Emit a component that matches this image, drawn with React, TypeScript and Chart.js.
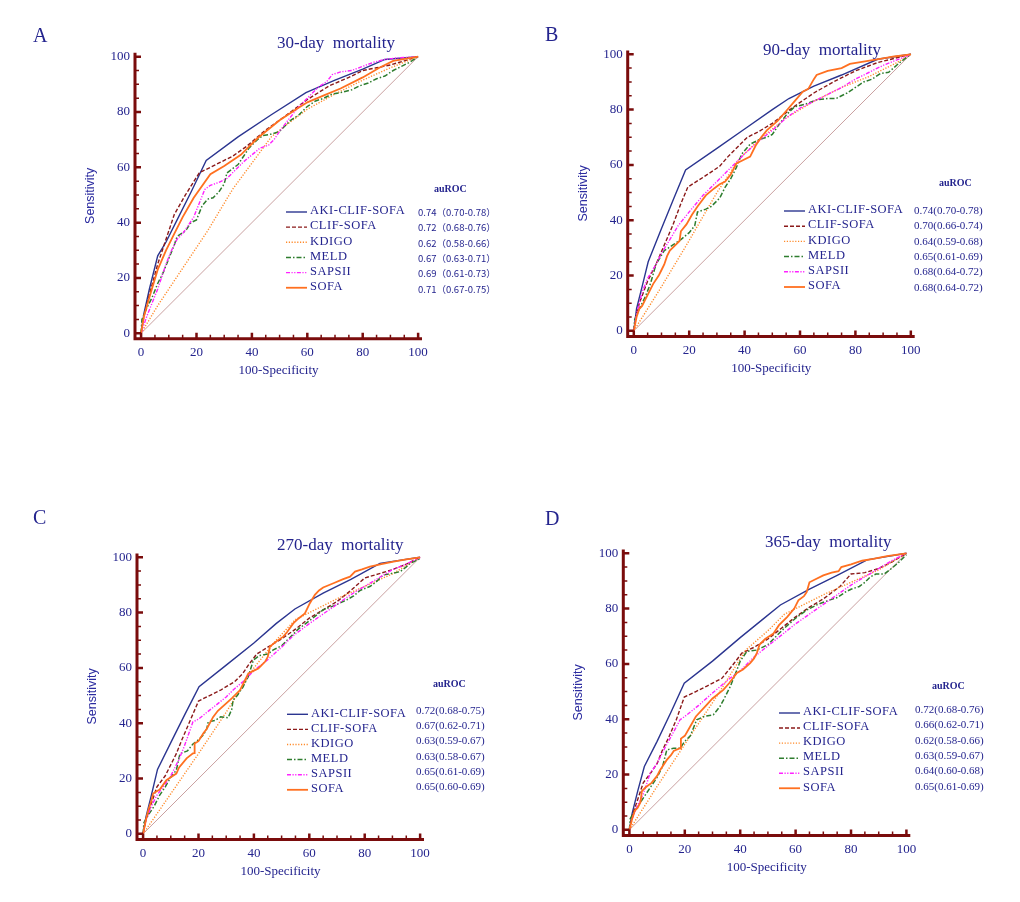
import React, { useEffect, useRef } from 'react';
import { Chart, registerables } from 'chart.js';

Chart.register(...registerables);

type Pt = [number, number];

const SERIES = ['AKI-CLIF-SOFA', 'CLIF-SOFA', 'KDIGO', 'MELD', 'SAPSII', 'SOFA'];
const TICKS = [0, 20, 40, 60, 80, 100];
const DIAGONAL: Pt[] = [[0, 0], [100, 100]];

// A: 30-day mortality
const A_AKI: Pt[] = [[0, 0], [1, 7], [3, 16], [6, 28], [9, 33], [13, 41], [18, 51], [23.5, 62.5], [35, 71], [47, 79], [59.5, 87], [70, 91.5], [80, 95.5], [88, 99], [100, 100]];
const A_CLIF: Pt[] = [[0, 0], [1, 6], [3, 14], [6, 25], [9, 34], [12, 43], [16, 50], [21, 58], [27, 61], [33, 64], [38, 67.5], [45, 73.5], [52, 78.5], [60, 84.5], [68, 89.5], [75, 92.5], [80, 95], [85, 96], [90, 97], [95, 98.5], [100, 100]];
const A_KDIGO: Pt[] = [[0, 0], [6, 10], [24, 37], [33, 52], [47, 71], [52, 75], [60, 81], [70, 86.5], [80, 91.5], [90, 96], [100, 100]];
const A_MELD: Pt[] = [[0, 0], [0.3, 5], [2, 9], [4, 13], [6, 18], [8, 22], [10, 27], [12, 32], [13, 35], [16, 37], [18, 40], [20, 41], [22, 46], [24, 48.5], [26, 49], [28, 51], [30, 54], [31, 58], [33, 59.5], [35, 61], [37, 64], [39, 67], [42, 70], [44, 71.5], [47, 72], [50, 73], [52, 75], [54, 77], [57, 79], [60, 82], [63, 84], [66, 85], [69, 86.5], [72, 87], [76, 88], [79, 89.5], [82, 90.5], [85, 92], [88, 93], [91, 95], [94, 96.5], [97, 98], [100, 100]];
const A_SAPSII: Pt[] = [[0, 0], [2, 6], [4, 11], [6, 16], [9, 25], [11, 30], [13, 34], [15, 36], [17, 39], [19, 42], [21, 47], [23, 52], [25, 53.5], [28, 54.5], [31, 56], [34, 59], [37, 62], [40, 64.5], [43, 67], [46, 68], [48, 70], [50, 73], [53, 77], [57, 82], [61, 86], [64, 89], [67, 91], [69, 93.5], [72, 94.5], [76, 95], [80, 96.5], [84, 98], [88, 99], [92, 99.5], [100, 100]];
const A_SOFA: Pt[] = [[0, 0], [1, 6], [3, 13], [6, 23], [9, 30], [12, 36], [15, 42], [19, 49], [25, 57.5], [30, 60.5], [36, 64.5], [42, 70.5], [50, 77], [56, 81], [60, 83.5], [66, 86], [72, 88.5], [80, 92.5], [86, 96], [91, 98.5], [100, 100]];
const A_AUROC = ['0.74（0.70-0.78）', '0.72（0.68-0.76）', '0.62（0.58-0.66）', '0.67（0.63-0.71）', '0.69（0.61-0.73）', '0.71（0.67-0.75）'];

// B: 90-day mortality
const B_AKI: Pt[] = [[0, 0], [1, 8], [3, 16], [5.2, 25], [10, 37], [14.5, 48], [18.7, 58.2], [30, 66], [40, 73], [50, 80], [56, 84], [65, 88.5], [75, 92.5], [88, 98.2], [100, 100]];
const B_CLIF: Pt[] = [[0, 0], [1, 6], [2, 10], [5, 18], [8, 24], [11, 31], [14, 38], [17, 46], [19.5, 52], [25, 55.5], [31, 59.5], [34, 63], [37, 66], [41, 70], [45, 72], [50, 75], [57, 80.5], [65, 86], [72, 90], [80, 94], [88, 97], [100, 100]];
const B_KDIGO: Pt[] = [[0, 0], [10, 16], [19, 31], [30, 50], [38, 62], [45, 69], [55, 77], [65, 83], [75, 88], [85, 92], [95, 97], [100, 100]];
const B_MELD: Pt[] = [[0, 0], [0.3, 4], [2, 8], [4, 12], [6, 17], [8, 24], [11, 29], [14, 31], [17, 33], [20, 35.5], [22, 38], [23, 43], [26, 44], [28, 45], [31, 48], [33, 52], [35, 55], [37, 59], [39, 64], [42, 67.5], [45, 69], [48, 70], [50, 71], [52, 74], [55, 78], [58, 81], [62, 82], [66, 83.5], [70, 84], [73, 84], [77, 86], [80, 88], [83, 90], [86, 91], [89, 93], [92, 93.5], [96, 97], [100, 100]];
const B_SAPSII: Pt[] = [[0, 0], [1, 6], [3, 14], [5, 19], [8, 24], [10, 28], [13, 33], [16, 38], [20, 43], [25, 49], [30, 54], [35, 59], [40, 64], [45, 68.5], [50, 72.5], [55, 77], [60, 80.5], [65, 83], [70, 85.5], [75, 88], [80, 91], [85, 93.5], [90, 96], [95, 98], [100, 100]];
const B_SOFA: Pt[] = [[0, 0], [1, 5], [2, 8], [3, 9], [4, 11], [5, 13], [7, 17], [9, 20], [10, 22], [11, 24], [12, 27], [13, 29], [15, 31], [16.5, 32.5], [17, 36], [19, 38.5], [21, 42], [23, 45], [26, 49], [29, 51.5], [31, 53], [33, 54], [35, 56.5], [37, 60.5], [39, 61.5], [42, 63], [44, 67], [46, 70], [48, 72.5], [52, 76], [55, 79.5], [58, 83], [61, 86.5], [63, 87.5], [65, 91], [66, 92.5], [70, 94], [75, 95], [78, 96.5], [84, 97.5], [90, 98.5], [94, 99.2], [100, 100]];
const B_AUROC = ['0.74(0.70-0.78)', '0.70(0.66-0.74)', '0.64(0.59-0.68)', '0.65(0.61-0.69)', '0.68(0.64-0.72)', '0.68(0.64-0.72)'];

// C: 270-day mortality
const C_AKI: Pt[] = [[0, 0], [1, 6], [3, 14], [5.2, 23.3], [10, 33], [15, 43], [20.2, 53.2], [30, 61], [40, 69], [48, 76], [54.8, 81.3], [65, 87], [75, 92], [85.5, 97.8], [100, 100]];
const C_CLIF: Pt[] = [[0, 0], [1, 5], [3, 11], [5, 17], [8, 21], [10, 25], [12, 29], [14, 34], [17, 41], [20, 48], [24, 50], [28, 52], [33, 55], [36, 58], [38, 61], [41, 65], [45, 67.5], [50, 70.5], [55, 74], [60, 78], [65, 81], [70, 84], [75, 88], [80, 92.5], [85, 94], [90, 95.5], [95, 97.5], [100, 100]];
const C_KDIGO: Pt[] = [[0, 0], [10, 14.5], [20, 29], [30, 44], [40, 60], [48, 70], [55, 77.5], [62, 81], [70, 85], [80, 89.5], [90, 94], [100, 100]];
const C_MELD: Pt[] = [[0, 0], [0.3, 4], [2, 7], [4, 10], [6, 14], [8, 17], [10, 20.5], [12, 23], [13.3, 29], [16, 30], [18, 32.5], [20, 34], [21.7, 35.7], [23, 38], [23.5, 40.5], [26, 41], [28, 42.3], [30.7, 42], [32, 45], [32.5, 48.4], [34, 50], [36, 53], [38, 57], [39.8, 62.8], [42, 64.5], [45, 65], [47, 66.5], [50, 68], [53, 71], [56, 74], [60, 77], [65, 81], [69, 82.5], [73.5, 84.6], [76, 86], [78.3, 88], [82, 89.5], [84, 91], [86.7, 93.6], [89, 94], [92.8, 94.8], [95, 96.5], [96.4, 97.8], [100, 99.5]];
const C_SAPSII: Pt[] = [[0, 0], [1, 5], [3, 10], [5, 14], [8, 18], [10, 21], [13, 27], [15, 32], [18, 40.5], [20, 41.5], [25, 45.5], [30, 49.5], [32.5, 52], [36, 55], [40, 59], [45, 63], [50, 67.5], [54, 71.5], [60, 76], [65, 79.5], [70, 83], [75, 86.5], [80, 89.5], [85, 92.5], [90, 95.5], [95, 97.5], [100, 100]];
const C_SOFA: Pt[] = [[0, 0], [1, 5], [2, 9], [3, 12], [3.6, 14.6], [6, 16], [8.4, 19.4], [10, 20.5], [12, 21.8], [13, 24], [15.7, 27.3], [18, 29.1], [18.5, 29.2], [18.6, 32.7], [20, 33.5], [21.7, 36.3], [23, 38], [25.3, 42.3], [27, 44.5], [30, 47.2], [32, 49], [35, 52], [36.5, 55], [38, 58], [40, 59], [41.6, 59.8], [44, 62.2], [45, 64], [45.8, 67.7], [48, 69.5], [50.6, 71.3], [52, 73], [54.2, 76.1], [56, 77.8], [58.4, 79.7], [59.5, 82], [60.2, 83.4], [62, 86.4], [63.5, 88], [65, 89.1], [68.7, 90.6], [72, 92], [74.7, 93], [76.5, 94.8], [79, 95.6], [81.9, 96.6], [86, 97.5], [90.4, 98.4], [95, 99.2], [100, 100]];
const C_AUROC = ['0.72(0.68-0.75)', '0.67(0.62-0.71)', '0.63(0.59-0.67)', '0.63(0.58-0.67)', '0.65(0.61-0.69)', '0.65(0.60-0.69)'];

// D: 365-day mortality
const D_AKI: Pt[] = [[0, 0], [1, 6], [3, 14], [5.4, 22.9], [10, 32], [15, 42.5], [19.8, 53], [30, 61], [40, 69.5], [48, 76], [54.5, 81.3], [65, 87], [75, 92], [85.8, 97.6], [100, 100]];
const D_CLIF: Pt[] = [[0, 0], [1, 5], [3, 11], [5, 17], [8, 21], [10, 24], [12, 29], [14, 33], [17, 40], [19.8, 48], [24, 50], [28, 52], [33.4, 54.8], [36, 58], [38, 60.5], [40.6, 63.9], [45, 66], [50, 69], [55, 73], [60, 77], [65, 80.5], [70, 83.5], [76, 88], [80, 92.5], [85, 93], [90, 94.5], [95, 97], [100, 100]];
const D_KDIGO: Pt[] = [[0, 0], [10, 15.7], [22, 34], [32, 49], [42, 65], [50, 72], [56, 78], [62, 81], [70, 85], [80, 89.5], [90, 94], [100, 100]];
const D_MELD: Pt[] = [[0, 0], [0.3, 4], [2, 7], [4, 10], [6, 13], [8, 16], [10, 19], [12, 23], [13.5, 28.9], [16, 29.5], [18.3, 29.5], [20, 32], [22, 34], [24.3, 39.8], [27, 41], [30.3, 41.6], [32.7, 44.6], [34, 47], [36.4, 51.8], [38.8, 57.8], [40, 61], [42.4, 64.5], [46, 65], [48, 66], [50, 67], [53, 70], [56, 73], [60, 76.5], [64, 79.5], [68, 81.5], [72, 83], [75, 84], [78, 86], [80, 87], [83, 88], [85, 89.5], [87, 91.5], [89, 92.5], [92, 92.5], [94, 94], [97, 96.5], [100, 99.5]];
const D_SAPSII: Pt[] = [[0, 0], [1, 4], [3, 9], [5, 13], [7.5, 20.5], [10, 24], [13, 30], [16, 35.5], [18.3, 39.8], [20, 41], [25, 45], [30, 49.5], [36.3, 54.8], [40, 57.5], [45, 62.5], [50, 66.5], [55, 70.5], [60, 74.5], [65, 78], [70, 81.5], [75, 85], [80, 88.5], [85, 91.5], [90, 94.5], [95, 97.5], [100, 100]];
const D_SOFA: Pt[] = [[0, 0], [1, 4], [2, 7], [3, 8], [4, 10], [4.5, 14], [6, 15.5], [8, 17], [10, 19.5], [11, 21.5], [13.5, 25.3], [15, 27], [16, 28.5], [18.3, 29.5], [18.6, 33], [20, 34], [21.9, 37.3], [24, 41], [27.9, 45.2], [30, 47.5], [33.9, 50.6], [36, 53], [38.8, 56.7], [41, 58], [43.6, 60.3], [45, 62], [46, 63.9], [47, 67], [49, 69], [52, 71], [54, 74], [57, 77], [59.5, 80], [61, 83], [63, 84.5], [64, 86], [65, 89.5], [67, 90.5], [70, 92], [73, 93], [75.5, 93.5], [76.5, 95], [80, 96], [84, 97.3], [88, 98], [93, 99], [100, 100]];
const D_AUROC = ['0.72(0.68-0.76)', '0.66(0.62-0.71)', '0.62(0.58-0.66)', '0.63(0.59-0.67)', '0.64(0.60-0.68)', '0.65(0.61-0.69)'];

// styling
const SERIF = "'Liberation Serif', 'Times New Roman', serif";
const SANS = "'Liberation Sans', Arial, sans-serif";
const CJK = "'Noto Sans CJK SC', 'Noto Sans', sans-serif";
const NAVY = '#24248e';
const AXIS_RED = '#7a0c0c';
const LINE_STYLES = [
  { color: '#2b3590', dash: [] as number[], width: 1.4 },
  { color: '#8b1a1a', dash: [4, 2], width: 1.4 },
  { color: '#ff8a2a', dash: [1.2, 1.6], width: 1.4 },
  { color: '#2e7d2e', dash: [5, 2, 1.5, 2], width: 1.5 },
  { color: '#ff22ff', dash: [4, 1.5, 1.2, 1.5, 1.2, 1.5], width: 1.4 },
  { color: '#ff7020', dash: [] as number[], width: 1.8 },
];

const PW = 510;
const PH = 451;
const AREA_W = 287;
const AREA_H = 286;
const Y_AXIS_W = 52;
const X_AXIS_H = 40;

interface Panel {
  letter: string;
  title: string;
  ox: number;
  oy: number;
  left: number;
  top: number;
  letterAt: Pt;
  titleAt: Pt;
  legendX: number;
  legendY: number;
  legendStep: number;
  valueX: number;
  valueY: number;
  valueStep: number;
  valueFont: string;
  aurocAt: Pt;
  series: Pt[][];
  auroc: string[];
}

const PANELS: Panel[] = [
  {
    letter: 'A', title: '30-day  mortality', ox: 0, oy: 0, left: 135, top: 52.8,
    letterAt: [33, 37], titleAt: [277, 44],
    legendX: 286, legendY: 211, legendStep: 15.15,
    valueX: 418, valueY: 212.5, valueStep: 15.3, valueFont: `9.5px ${CJK}`, aurocAt: [434, 189],
    series: [A_AKI, A_CLIF, A_KDIGO, A_MELD, A_SAPSII, A_SOFA], auroc: A_AUROC,
  },
  {
    letter: 'B', title: '90-day  mortality', ox: 510, oy: 0, left: 627.7, top: 50.4,
    letterAt: [545, 36], titleAt: [763, 51],
    legendX: 784, legendY: 210, legendStep: 15.2,
    valueX: 914, valueY: 211, valueStep: 15.4, valueFont: `11px ${SERIF}`, aurocAt: [939, 183],
    series: [B_AKI, B_CLIF, B_KDIGO, B_MELD, B_SAPSII, B_SOFA], auroc: B_AUROC,
  },
  {
    letter: 'C', title: '270-day  mortality', ox: 0, oy: 451, left: 137, top: 553.4,
    letterAt: [33, 519], titleAt: [277, 546],
    legendX: 287, legendY: 713.3, legendStep: 15.1,
    valueX: 416, valueY: 711, valueStep: 15.3, valueFont: `11px ${SERIF}`, aurocAt: [433, 684],
    series: [C_AKI, C_CLIF, C_KDIGO, C_MELD, C_SAPSII, C_SOFA], auroc: C_AUROC,
  },
  {
    letter: 'D', title: '365-day  mortality', ox: 510, oy: 451, left: 623.3, top: 549.4,
    letterAt: [545, 520], titleAt: [765, 543],
    legendX: 779, legendY: 712, legendStep: 15.05,
    valueX: 915, valueY: 710.3, valueStep: 15.3, valueFont: `11px ${SERIF}`, aurocAt: [932, 686],
    series: [D_AKI, D_CLIF, D_KDIGO, D_MELD, D_SAPSII, D_SOFA], auroc: D_AUROC,
  },
];

function makeDecor(p: Panel) {
  return {
    id: 'panelDecor',
    afterDatasetsDraw(chart: Chart) {
      const { ctx, chartArea: a, scales } = chart;
      const sx = scales.x;
      const sy = scales.y;
      ctx.save();
      // axes with inward ticks
      ctx.strokeStyle = AXIS_RED;
      ctx.setLineDash([]);
      ctx.lineWidth = 3;
      ctx.beginPath();
      ctx.moveTo(a.left, a.top);
      ctx.lineTo(a.left, a.bottom);
      ctx.lineTo(a.right, a.bottom);
      ctx.stroke();
      for (let v = 0; v <= 100; v += 5) {
        const major = v % 20 === 0;
        const len = major ? 6 : 4;
        ctx.lineWidth = major ? 2.5 : 1.5;
        const y = sy.getPixelForValue(v);
        const x = sx.getPixelForValue(v);
        ctx.beginPath();
        ctx.moveTo(a.left, y);
        ctx.lineTo(a.left + len, y);
        ctx.moveTo(x, a.bottom);
        ctx.lineTo(x, a.bottom - len);
        ctx.stroke();
      }

      const px = (x: number) => x - p.ox;
      const py = (y: number) => y - p.oy;
      ctx.fillStyle = NAVY;
      ctx.textBaseline = 'middle';
      ctx.textAlign = 'left';

      ctx.font = `20px ${SERIF}`;
      ctx.fillText(p.letter, px(p.letterAt[0]), py(p.letterAt[1]));
      ctx.font = `17px ${SERIF}`;
      ctx.fillText(p.title, px(p.titleAt[0]), py(p.titleAt[1]));
      ctx.font = `bold 10px ${SERIF}`;
      ctx.fillText('auROC', px(p.aurocAt[0]), py(p.aurocAt[1]));

      // legend with auROC column
      chart.data.datasets.forEach((ds: any, i: number) => {
        if (i >= SERIES.length) return;
        const y = py(p.legendY + i * p.legendStep);
        ctx.strokeStyle = ds.borderColor;
        ctx.lineWidth = ds.borderWidth;
        ctx.setLineDash(ds.borderDash || []);
        ctx.beginPath();
        ctx.moveTo(px(p.legendX), y + 1);
        ctx.lineTo(px(p.legendX + 21), y + 1);
        ctx.stroke();
        ctx.setLineDash([]);
        ctx.font = `12.5px ${SERIF}`;
        (ctx as any).letterSpacing = '0.5px';
        ctx.fillText(SERIES[i], px(p.legendX + 24), y);
        (ctx as any).letterSpacing = '0px';
        ctx.font = p.valueFont;
        ctx.fillText(p.auroc[i], px(p.valueX), py(p.valueY + i * p.valueStep));
      });
      ctx.restore();
    },
  };
}

function RocPanel({ panel }: { panel: Panel }) {
  const canvasRef = useRef<HTMLCanvasElement>(null);

  useEffect(() => {
    if (!canvasRef.current) return;
    const ctx = canvasRef.current.getContext('2d');
    if (!ctx) return;

    const areaLeft = panel.left - panel.ox;
    const areaTop = panel.top - panel.oy;

    const datasets: any[] = panel.series.map((pts, i) => ({
      label: SERIES[i],
      data: pts.map(([x, y]) => ({ x, y })),
      borderColor: LINE_STYLES[i].color,
      borderDash: LINE_STYLES[i].dash,
      borderWidth: LINE_STYLES[i].width,
      pointRadius: 0,
      tension: 0,
      fill: false,
      order: 6 - i,
    }));
    datasets.push({
      label: 'reference',
      data: DIAGONAL.map(([x, y]) => ({ x, y })),
      borderColor: '#c9a0a0',
      borderWidth: 1,
      pointRadius: 0,
      fill: false,
      order: 20,
    });

    const tickFont = { family: SERIF, size: 13 };
    const chart = new Chart(ctx, {
      type: 'line',
      data: { datasets },
      plugins: [makeDecor(panel)],
      options: {
        responsive: false,
        animation: false,
        layout: {
          padding: {
            left: areaLeft - Y_AXIS_W,
            top: areaTop,
            right: PW - areaLeft - AREA_W,
            bottom: PH - areaTop - AREA_H - X_AXIS_H,
          },
        },
        plugins: { legend: { display: false }, tooltip: { enabled: false } },
        scales: {
          x: {
            type: 'linear',
            min: -2.2,
            max: 101.4,
            afterBuildTicks: (axis: any) => { axis.ticks = TICKS.map((v) => ({ value: v })); },
            afterFit: (scale: any) => { scale.height = X_AXIS_H; },
            grid: { display: false, drawTicks: false },
            border: { display: false },
            ticks: { font: tickFont, color: NAVY, padding: 6, maxRotation: 0, autoSkip: false },
            title: { display: true, text: '100-Specificity', font: tickFont, color: NAVY, padding: 0 },
          },
          y: {
            type: 'linear',
            min: -2,
            max: 101.4,
            afterBuildTicks: (axis: any) => { axis.ticks = TICKS.map((v) => ({ value: v })); },
            afterFit: (scale: any) => { scale.width = Y_AXIS_W; },
            grid: { display: false, drawTicks: false },
            border: { display: false },
            ticks: { font: tickFont, color: NAVY, padding: 5, autoSkip: false },
            title: { display: true, text: 'Sensitivity', font: { family: SANS, size: 12.5 }, color: '#2c2ca0', padding: 0 },
          },
        },
      },
    });

    return () => {
      chart.destroy();
    };
  }, [panel]);

  return (
    <canvas
      ref={canvasRef}
      width={PW}
      height={PH}
      style={{ position: 'absolute', left: panel.ox, top: panel.oy, width: PW, height: PH }}
    />
  );
}

export default function App() {
  return (
    <div style={{ position: 'absolute', left: 0, top: 0, width: 1020, height: 902, background: '#fff' }}>
      {PANELS.map((p) => (
        <RocPanel key={p.letter} panel={p} />
      ))}
    </div>
  );
}
